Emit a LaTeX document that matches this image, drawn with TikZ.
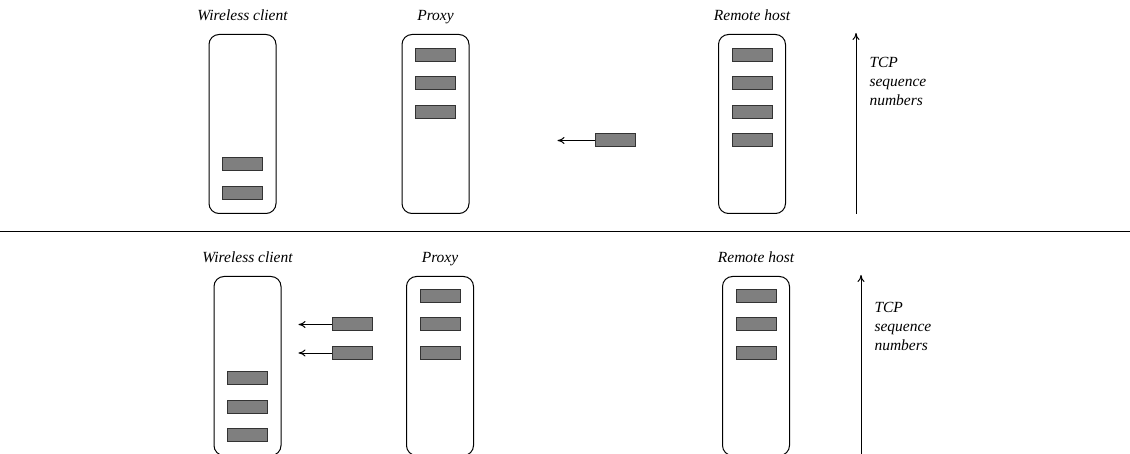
\documentclass[tikz,border=0pt]{standalone}
\usepackage{fontspec}
\setmainfont{Liberation Serif}
\usetikzlibrary{positioning}
\usetikzlibrary{arrows.meta}

\definecolor{pktgray}{HTML}{7F7F7F}
\definecolor{pktedge}{HTML}{333333}

\begin{document}
\begin{tikzpicture}[
        x=1pt, y=-1pt,
        line width=1pt,
        >={To[length=7pt,width=7pt]},
        host/.style = {draw, rounded corners=10pt, minimum width=67pt, minimum height=179pt, inner sep=0},
        pkt/.style = {node distance=14.5pt, draw=pktedge, fill=pktgray, minimum width=40pt, minimum height=13pt, inner sep=0},
        lbl/.style = {font=\fontsize{15.5}{19}\selectfont\itshape, inner sep=0},
        axislbl/.style = {font=\fontsize{15.5}{19}\selectfont\itshape, align=left, inner sep=0, anchor=north west}
    ]

        \clip (0,0) rectangle (1130,454);

        % before
        \node[host] (wc1) at (242.5,124) {};
        \node[host] (px1) at (435.5,124) {};
        \node[host] (rh1) at (752,124) {};
        \node[lbl, above=13pt of wc1.north, anchor=base] (wc1l) {Wireless client};
        \node[lbl, above=13pt of px1.north, anchor=base] (px1l) {Proxy};
        \node[lbl, above=13pt of rh1.north, anchor=base] (rh1l) {Remote host};

        \node[pkt] (wc1b) [above=14pt of wc1.south] {};
        \node[pkt] (wc1a) [above=of wc1b] {};
        \node[pkt] (px1a) [below=14pt of px1.north] {};
        \node[pkt] (px1b) [below=of px1a] {};
        \node[pkt] (px1c) [below=of px1b] {};
        \node[pkt] (rh1a) [below=14pt of rh1.north] {};
        \node[pkt] (rh1b) [below=of rh1a] {};
        \node[pkt] (rh1c) [below=of rh1b] {};
        \node[pkt] (rh1d) [below=of rh1c] {};

        \node[pkt] (fly1) [left=96pt of rh1d] {};
        \coordinate[left=37pt of fly1] (fly1end);
        \draw[->] (fly1) -- (fly1end);

        \coordinate (ax1b) at (856,214);
        \coordinate (ax1t) at (856,33);
        \draw[->] (ax1b) -- (ax1t);
        \node[axislbl] (ax1l) at (869,57) {TCP\\sequence\\numbers};

        \coordinate (sepl) at (0,232);
        \coordinate (sepr) at (1130,232);
        \draw (sepl) -- (sepr);

        % after
        \node[host] (wc2) at (247.5,366) {};
        \node[host] (px2) at (440,366) {};
        \node[host] (rh2) at (756,366) {};
        \node[lbl, above=13pt of wc2.north, anchor=base] (wc2l) {Wireless client};
        \node[lbl, above=13pt of px2.north, anchor=base] (px2l) {Proxy};
        \node[lbl, above=13pt of rh2.north, anchor=base] (rh2l) {Remote host};

        \node[pkt] (wc2c) [above=14pt of wc2.south] {};
        \node[pkt] (wc2b) [above=of wc2c] {};
        \node[pkt] (wc2a) [above=of wc2b] {};
        \node[pkt] (px2a) [below=13pt of px2.north] {};
        \node[pkt] (px2b) [below=of px2a] {};
        \node[pkt] (px2c) [below=of px2b] {};
        \node[pkt] (rh2a) [below=13pt of rh2.north] {};
        \node[pkt] (rh2b) [below=of rh2a] {};
        \node[pkt] (rh2c) [below=of rh2b] {};

        \node[pkt] (fly2) [left=47pt of px2b] {};
        \node[pkt] (fly3) [left=47pt of px2c] {};
        \coordinate[left=33pt of fly2] (fly2end);
        \coordinate[left=33pt of fly3] (fly3end);
        \draw[->] (fly2) -- (fly2end);
        \draw[->] (fly3) -- (fly3end);

        \coordinate (ax2b) at (861,456);
        \coordinate (ax2t) at (861,275);
        \draw[->] (ax2b) -- (ax2t);
        \node[axislbl] (ax2l) at (874,302) {TCP\\sequence\\numbers};

    \end{tikzpicture}
\end{document}
